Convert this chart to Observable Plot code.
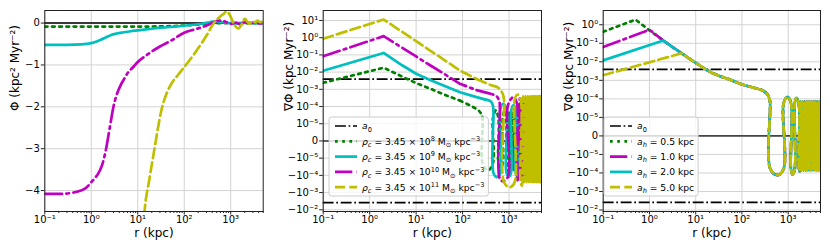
<!DOCTYPE html>
<html><head><meta charset="utf-8">
<script src="https://cdn.jsdelivr.net/npm/d3@7"></script>
<script src="https://cdn.jsdelivr.net/npm/@observablehq/plot@0.6"></script>
<style>
body{margin:0;background:#fff;}
#fig{position:relative;width:830px;height:249px;font-family:"DejaVu Sans",sans-serif;background:#fff;}
#fig > svg{position:absolute;left:0;top:0;}
</style></head><body><div id="fig"></div>
<script>
// ---------- axis ticks ----------
const xMajor = [0.1, 1, 10, 100, 1000];
const xMajorLabels = ["10⁻¹", "10⁰", "10¹", "10²", "10³"];
const p1YTicks = [0, -1, -2, -3, -4];
const p1YLabels = ["0", "−1", "−2", "−3", "−4"];
const symTicks = [10, 1, 0.1, 0.01, 1e-3, 1e-4, 1e-5, 0, -1e-5, -1e-4, -1e-3, -1e-2];
const symLabels = ["10¹", "10⁰", "10⁻¹", "10⁻²", "10⁻³", "10⁻⁴", "10⁻⁵", "0", "−10⁻⁵", "−10⁻⁴", "−10⁻³", "−10⁻²"];
const a0 = 3.87e-3;

// ---------- panel 1: potential ----------
const p1Green = [[0.1,-0.085],[1,-0.085],[10,-0.084],[30,-0.08],[60,-0.07],[100,-0.06],[150,-0.045],[220,-0.03],[300,-0.018],[450,-0.006],[700,0],[1000,0],[2000,0],[5000,0]];
const p1Cyan = [[0.1,-0.52],[0.3,-0.52],[0.6,-0.51],[1,-0.48],[1.3,-0.44],[1.6,-0.40],[2,-0.35],[2.6,-0.29],[3.5,-0.25],[5,-0.22],[7,-0.195],[10,-0.175],[20,-0.135],[32,-0.11],[60,-0.085],[100,-0.064],[160,-0.04],[240,-0.016],[350,0.02],[450,0.04],[600,0.03],[800,0.01],[1000,0],[1300,-0.01],[1700,0],[2200,0.01],[3000,0],[4000,-0.005],[5000,0]];
const p1Magenta = [[0.1,-4.08],[0.2,-4.08],[0.4,-4.05],[0.6,-4.0],[0.8,-3.92],[1,-3.8],[1.2,-3.7],[1.4,-3.6],[1.7,-3.4],[2,-3.1],[2.5,-2.5],[3,-2.0],[3.5,-1.72],[4.3,-1.48],[5,-1.35],[6,-1.2],[8,-1.05],[10,-0.93],[14,-0.8],[20,-0.68],[30,-0.56],[54,-0.41],[100,-0.23],[170,-0.15],[240,-0.1],[330,-0.04],[430,0.02],[550,0.06],[680,0.05],[850,0.01],[1000,-0.02],[1300,0.01],[1600,-0.03],[2000,0.02],[2500,-0.01],[3200,0.01],[4000,-0.01],[5000,0]];
const p1Yellow = [[12,-5.6],[14,-4.5],[17.6,-3.76],[22.6,-3.04],[32,-2.1],[44,-1.62],[55,-1.42],[70,-1.27],[100,-1.05],[166,-0.73],[240,-0.47],[320,-0.25],[400,-0.06],[500,0.08],[600,0.16],[700,0.22],[820,0.28],[950,0.2],[1150,0],[1450,-0.13],[1750,-0.02],[2000,0.1],[2300,0.03],[2550,-0.015],[2900,0.05],[3300,0.02],[3800,0.06],[4300,0.02],[5000,0.04]];

// ---------- panel 2: gradient, varying rho_c ----------
const p2GreenMain = [[0.1,2.4e-3],[2,1.8e-2],[5,5.5e-3],[10,2.3e-3],[20,1.1e-3],[40,5e-4],[88,2.2e-4]];
const p2GreenOsc = [[88,2.2e-4],[150,1.1e-4],[220,6e-5],[255,3.5e-5],[270,2e-5],[270,-2e-5],[350,-5.2e-5],[450,-2e-5],[450,2e-5],[520,6e-5],[590,2e-5],[590,-2e-5],[660,-6e-5],[730,-2e-5],[730,2e-5],[800,6e-5],[870,2e-5],[870,-2e-5],[940,-6e-5],[1010,5e-5],[1090,-5e-5],[1170,5e-5],[1260,-5e-5],[1350,5e-5],[1450,-5e-5],[1560,5e-5],[1680,-5e-5],[1800,5e-5],[1930,-5e-5],[2070,5e-5],[2220,-5e-5],[2380,5e-5],[2550,-5e-5],[2730,5e-5],[2920,-5e-5],[3120,5e-5],[3340,-5e-5],[3570,5e-5],[3810,-5e-5],[4070,5e-5],[4340,-5e-5],[4630,5e-5],[5000,-5e-5]];
const p2CyanMain = [[0.1,1.2e-2],[2,0.13],[5,0.025],[10,8e-3],[20,3.5e-3],[40,1.6e-3],[88,6.8e-4],[200,3.5e-4],[300,2.6e-4]];
const p2CyanOsc = [[300,2.6e-4],[390,2.1e-4],[440,1.4e-4],[460,7e-5],[460,-7e-5],[540,-1.26e-4],[650,-7e-5],[650,7e-5],[740,1.45e-4],[880,7e-5],[880,-7e-5],[1000,-1.2e-4],[1120,-6e-5],[1120,6e-5],[1250,1.2e-4],[1380,6e-5],[1380,-6e-5],[1480,-1.1e-4],[1580,1.1e-4],[1690,-1.1e-4],[1800,1.1e-4],[1920,-1.1e-4],[2050,1.1e-4],[2180,-1.1e-4],[2320,1.1e-4],[2460,-1.1e-4],[2610,1.1e-4],[2770,-1.1e-4],[2930,1.1e-4],[3100,-1.1e-4],[3280,1.1e-4],[3460,-1.1e-4],[3650,1.1e-4],[3850,-1.1e-4],[4050,1.1e-4],[4270,-1.1e-4],[4500,1.1e-4],[4750,-1.1e-4],[5000,1.1e-4]];
const p2MagentaMain = [[0.1,0.083],[2,1.23],[5,0.26],[10,0.081],[20,0.025],[40,8e-3],[88,2.1e-3],[200,9e-4]];
const p2MagentaOsc = [[200,9e-4],[400,5.5e-4],[540,4e-4],[600,2.5e-4],[630,1.5e-4],[630,-1.5e-4],[740,-2.2e-4],[950,-1.2e-4],[950,1.2e-4],[1240,3.5e-4],[1480,1.5e-4],[1480,-1.5e-4],[1600,-2.2e-4],[1700,3e-4],[1830,-2e-4],[1960,3e-4],[2100,-2e-4],[2240,3e-4],[2380,-2e-4],[2530,3e-4],[2680,-2e-4],[2840,3e-4],[3000,-2e-4],[3160,3e-4],[3330,-2e-4],[3500,3e-4],[3680,-2e-4],[3860,3e-4],[4050,-2e-4],[4250,3e-4],[4450,-2e-4],[4650,3e-4],[4850,-2e-4],[5000,3e-4]];
const p2YellowMain = [[0.1,0.87],[2,11.4],[5,2.2],[10,0.63],[20,0.18],[40,0.052],[88,0.0123],[200,4e-3]];
const p2YellowOsc = [[200,4e-3],[400,1.8e-3],[570,1.3e-3],[680,8e-4],[740,5e-4],[780,2.5e-4],[780,-2.5e-4],[1035,-4.9e-4],[1320,-2.5e-4],[1320,2.5e-4],[1530,5e-4],[1780,2.5e-4],[1780,-2.5e-4],[1900,-4e-4],[2000,4e-4],[2120,-2.5e-4],[2250,4e-4],[2380,-2.5e-4],[2520,4e-4],[2660,-2.5e-4],[2800,4e-4],[2950,-2.5e-4],[3100,4e-4],[3250,-2.5e-4],[3400,4e-4],[3560,-2.5e-4],[3720,4e-4],[3900,-2.5e-4],[4080,4e-4],[4270,-2.5e-4],[4460,4e-4],[4660,-2.5e-4],[4860,4e-4],[5000,-2.5e-4]];

// ---------- panel 3: gradient, varying a_h ----------
const p3GreenInner = [[0.1,0.42],[0.5,1.9],[1,0.5],[2,0.14]];
const p3MagentaInner = [[0.1,0.063],[1,0.54],[2,0.14]];
const p3CyanInner = [[0.1,0.012],[2,0.14]];
const p3YellowInner = [[0.1,1.9e-3],[5,0.029]];
const p3CommonMain = [[2,0.14],[3,0.068],[5,0.029],[7,0.016],[10,8.9e-3],[15,4.5e-3],[22,2.6e-3],[35,1.6e-3],[50,1.2e-3],[100,6e-4],[180,4e-4]];
const p3CommonOsc = [[180,4e-4],[275,2.9e-4],[340,2e-4],[380,1.3e-4],[405,7e-5],[410,-6e-5],[590,-1.3e-4],[800,-6e-5],[800,6e-5],[970,1.26e-4],[1150,6e-5],[1150,-6e-5],[1250,-1.2e-4],[1390,-6e-5],[1390,6e-5],[1500,1.1e-4],[1700,5e-5],[1700,-5e-5],[1780,-8e-5],[1860,7e-5],[1950,-7e-5],[2040,7e-5],[2140,-7e-5],[2240,7e-5],[2350,-7e-5],[2460,7e-5],[2580,-7e-5],[2700,7e-5],[2830,-7e-5],[2960,7e-5],[3100,-7e-5],[3250,7e-5],[3400,-7e-5],[3560,7e-5],[3730,-7e-5],[3900,7e-5],[4080,-7e-5],[4270,7e-5],[4470,-7e-5],[4680,7e-5],[4900,-7e-5],[5000,7e-5]];

// ---------- styles ----------
const GREEN = "#008000", CYAN = "#00bfbf", MAGENTA = "#bf00bf", YELLOW = "#bfbf00";
const LW = 2.7;
const DOT = "2.7,4.5", DASH = "10,4.3", DASHDOT = "17.3,4.3,2.7,4.3", A0DASH = "10.9,2.7,1.7,2.7";

// matplotlib-like symlog (linthresh 1e-5, one decade for the linear part)
const T = 1e-5;
const symlogU = v => { const a = Math.abs(v); return a <= T ? v / T : Math.sign(v) * (1 + Math.log10(a / T)); };

const xMinor = [];
for (const e of xMajor) for (let k = 2; k <= 9; k++) { const v = e * k; if (v <= 5000) xMinor.push(v); }
const xLabelMap = new Map(xMajor.map((d, i) => [d, xMajorLabels[i]]));

function panel(cfg) {
  const yTickPos = cfg.yTicks.map(cfg.yFn);
  const keep = yTickPos.map(u => u >= cfg.yDomain[0] && u <= cfg.yDomain[1]);
  const tickPos = yTickPos.filter((_, i) => keep[i]);
  const labMap = new Map(yTickPos.map((u, i) => [u, cfg.yLabels[i]]));
  const marks = [
    Plot.gridX(xMajor, {stroke: "#d3d3d3", strokeOpacity: 1, strokeWidth: 1}),
    Plot.gridY(tickPos, {stroke: "#d3d3d3", strokeOpacity: 1, strokeWidth: 1})
  ];
  for (const rl of cfg.rules) marks.push(Plot.ruleY([rl.y], {y: d => cfg.yFn(d), stroke: rl.color, strokeWidth: rl.width, strokeDasharray: rl.dash}));
  for (const ln of cfg.lines) marks.push(Plot.line(ln.data, {x: d => d[0], y: d => cfg.yFn(d[1]), stroke: ln.color, strokeWidth: LW, strokeDasharray: ln.dash, curve: ln.curve, clip: true}));
  marks.push(
    Plot.axisX(xMinor, {tickSize: 2, tickFormat: () => "", label: null, stroke: "#222"}),
    Plot.axisX(xMajor, {tickSize: 3.5, tickPadding: 1, tickFormat: d => xLabelMap.get(d), label: null, fontSize: 10, stroke: "#222"}),
    Plot.axisY(tickPos, {tickSize: 3.5, tickPadding: 1.5, tickFormat: d => labMap.get(d), label: null, fontSize: 10, stroke: "#222"}),
    Plot.frame({stroke: "#222", strokeWidth: 1}),
    Plot.text(["r (kpc)"], {text: d => d, frameAnchor: "bottom", dy: 21.5, fontSize: 12, lineAnchor: "middle"}),
    Plot.text([cfg.yLabel], {text: d => d, frameAnchor: "left", dx: cfg.yLabelDx, rotate: -90, fontSize: 12, lineAnchor: "middle"})
  );
  return Plot.plot({
    width: 830, height: 249,
    marginLeft: cfg.L, marginRight: 830 - cfg.R, marginTop: 10, marginBottom: 249 - 211,
    x: {type: "log", domain: [0.1, 5000]},
    y: {type: "linear", domain: cfg.yDomain},
    style: {fontFamily: "DejaVu Sans", fontSize: "10px", color: "#000", background: "transparent", overflow: "visible"},
    marks
  });
}

const fig = document.getElementById("fig");
const ident = v => v;

fig.appendChild(panel({
  L: 44.3, R: 262.7, yDomain: [-4.5, 0.3], yFn: ident,
  yTicks: p1YTicks, yLabels: p1YLabels,
  yLabel: "Φ (kpc² Myr⁻²)", yLabelDx: -29.3,
  rules: [{y: 0, color: "#000", width: 1.5}],
  lines: [
    {data: p1Green, color: GREEN, dash: DOT, curve: "monotone-x"},
    {data: p1Cyan, color: CYAN, dash: null, curve: "monotone-x"},
    {data: p1Magenta, color: MAGENTA, dash: DASHDOT, curve: "monotone-x"},
    {data: p1Yellow, color: YELLOW, dash: DASH, curve: "monotone-x"}
  ]
}));

fig.appendChild(panel({
  L: 322.7, R: 541, yDomain: [-4.1, 7.58], yFn: symlogU,
  yTicks: symTicks, yLabels: symLabels,
  yLabel: "∇Φ (kpc Myr⁻²)", yLabelDx: -34,
  rules: [{y: 0, color: "#333", width: 1.5}, {y: a0, color: "#000", width: 1.7, dash: A0DASH}, {y: -a0, color: "#000", width: 1.7, dash: A0DASH}],
  lines: [
    {data: p2GreenMain, color: GREEN, dash: DOT, curve: "linear"},
    {data: p2GreenOsc, color: GREEN, dash: DOT, curve: "catmull-rom"},
    {data: p2CyanMain, color: CYAN, dash: null, curve: "linear"},
    {data: p2CyanOsc, color: CYAN, dash: null, curve: "catmull-rom"},
    {data: p2MagentaMain, color: MAGENTA, dash: DASHDOT, curve: "linear"},
    {data: p2MagentaOsc, color: MAGENTA, dash: DASHDOT, curve: "catmull-rom"},
    {data: p2YellowMain, color: YELLOW, dash: DASH, curve: "linear"},
    {data: p2YellowOsc, color: YELLOW, dash: DASH, curve: "catmull-rom"}
  ]
}));

const tail = arr => p3CommonMain.filter(d => d[0] > arr[arr.length - 1][0]);
fig.appendChild(panel({
  L: 602.7, R: 820, yDomain: [-4.08, 6.77], yFn: symlogU,
  yTicks: symTicks, yLabels: symLabels,
  yLabel: "∇Φ (kpc Myr⁻²)", yLabelDx: -34,
  rules: [{y: 0, color: "#444", width: 1.8}, {y: a0, color: "#000", width: 1.7, dash: A0DASH}, {y: -a0, color: "#000", width: 1.7, dash: A0DASH}],
  lines: [
    {data: p3GreenInner.concat(tail(p3GreenInner)), color: GREEN, dash: DOT, curve: "linear"},
    {data: p3CommonOsc, color: GREEN, dash: DOT, curve: "catmull-rom"},
    {data: p3MagentaInner.concat(tail(p3MagentaInner)), color: MAGENTA, dash: DASHDOT, curve: "linear"},
    {data: p3CommonOsc, color: MAGENTA, dash: DASHDOT, curve: "catmull-rom"},
    {data: p3CyanInner.concat(tail(p3CyanInner)), color: CYAN, dash: null, curve: "linear"},
    {data: p3CommonOsc, color: CYAN, dash: null, curve: "catmull-rom"},
    {data: p3YellowInner.concat(tail(p3YellowInner)), color: YELLOW, dash: DASH, curve: "linear"},
    {data: p3CommonOsc, color: YELLOW, dash: DASH, curve: "catmull-rom"}
  ]
}));

// ---------- legends ----------
const overlay = d3.select("#fig").append("svg").attr("width", 830).attr("height", 249)
  .attr("font-family", "DejaVu Sans");
const rowY = [126, 141.3, 156.6, 171.9, 187.2];
function legend(x0, entries) {
  const g = overlay.append("g");
  const box = g.append("rect").attr("x", x0).attr("y", 117).attr("height", 79).attr("rx", 2.5)
    .attr("fill", "#fff").attr("fill-opacity", 0.8).attr("stroke", "#cccccc").attr("stroke-width", 1);
  let right = 0;
  entries.forEach((e, i) => {
    const y = rowY[i];
    g.append("line").attr("x1", x0 + 6).attr("x2", x0 + 28).attr("y1", y).attr("y2", y)
      .attr("stroke", e.color).attr("stroke-width", e.width).attr("stroke-dasharray", e.dash || null);
    const t = g.append("text").attr("x", x0 + 33).attr("y", y + 3.3).attr("font-size", 9.2).attr("fill", "#000");
    let off = 0;
    for (const p of e.parts) {
      const target = p.sub ? 2.4 : p.sup ? -3.6 : 0;
      const ts = t.append("tspan").text(p.t);
      if (target - off !== 0) ts.attr("dy", target - off);
      off = target;
      if (p.sub || p.sup) ts.attr("font-size", 6.6);
      if (p.it) ts.attr("font-style", "italic");
    }
    right = Math.max(right, x0 + 33 + t.node().getComputedTextLength());
  });
  box.attr("width", right - x0 + 4);
}
const a0Parts = [{t: "a", it: true}, {t: "0", sub: true}];
const rho = exp => [{t: "ρ", it: true}, {t: "c", it: true, sub: true}, {t: " = 3.45 × 10"}, {t: exp, sup: true}, {t: " M"}, {t: "⊙", sub: true}, {t: " kpc"}, {t: "−3", sup: true}];
const ah = val => [{t: "a", it: true}, {t: "h", it: true, sub: true}, {t: " = " + val + " kpc"}];
legend(329, [
  {color: "#000", width: 1.7, dash: A0DASH, parts: a0Parts},
  {color: GREEN, width: LW, dash: DOT, parts: rho("8")},
  {color: CYAN, width: LW, dash: null, parts: rho("9")},
  {color: MAGENTA, width: LW, dash: DASHDOT, parts: rho("10")},
  {color: YELLOW, width: LW, dash: DASH, parts: rho("11")}
]);
legend(604, [
  {color: "#000", width: 1.7, dash: A0DASH, parts: a0Parts},
  {color: GREEN, width: LW, dash: DOT, parts: ah("0.5")},
  {color: MAGENTA, width: LW, dash: DASHDOT, parts: ah("1.0")},
  {color: CYAN, width: LW, dash: null, parts: ah("2.0")},
  {color: YELLOW, width: LW, dash: DASH, parts: ah("5.0")}
]);
</script></body></html>
